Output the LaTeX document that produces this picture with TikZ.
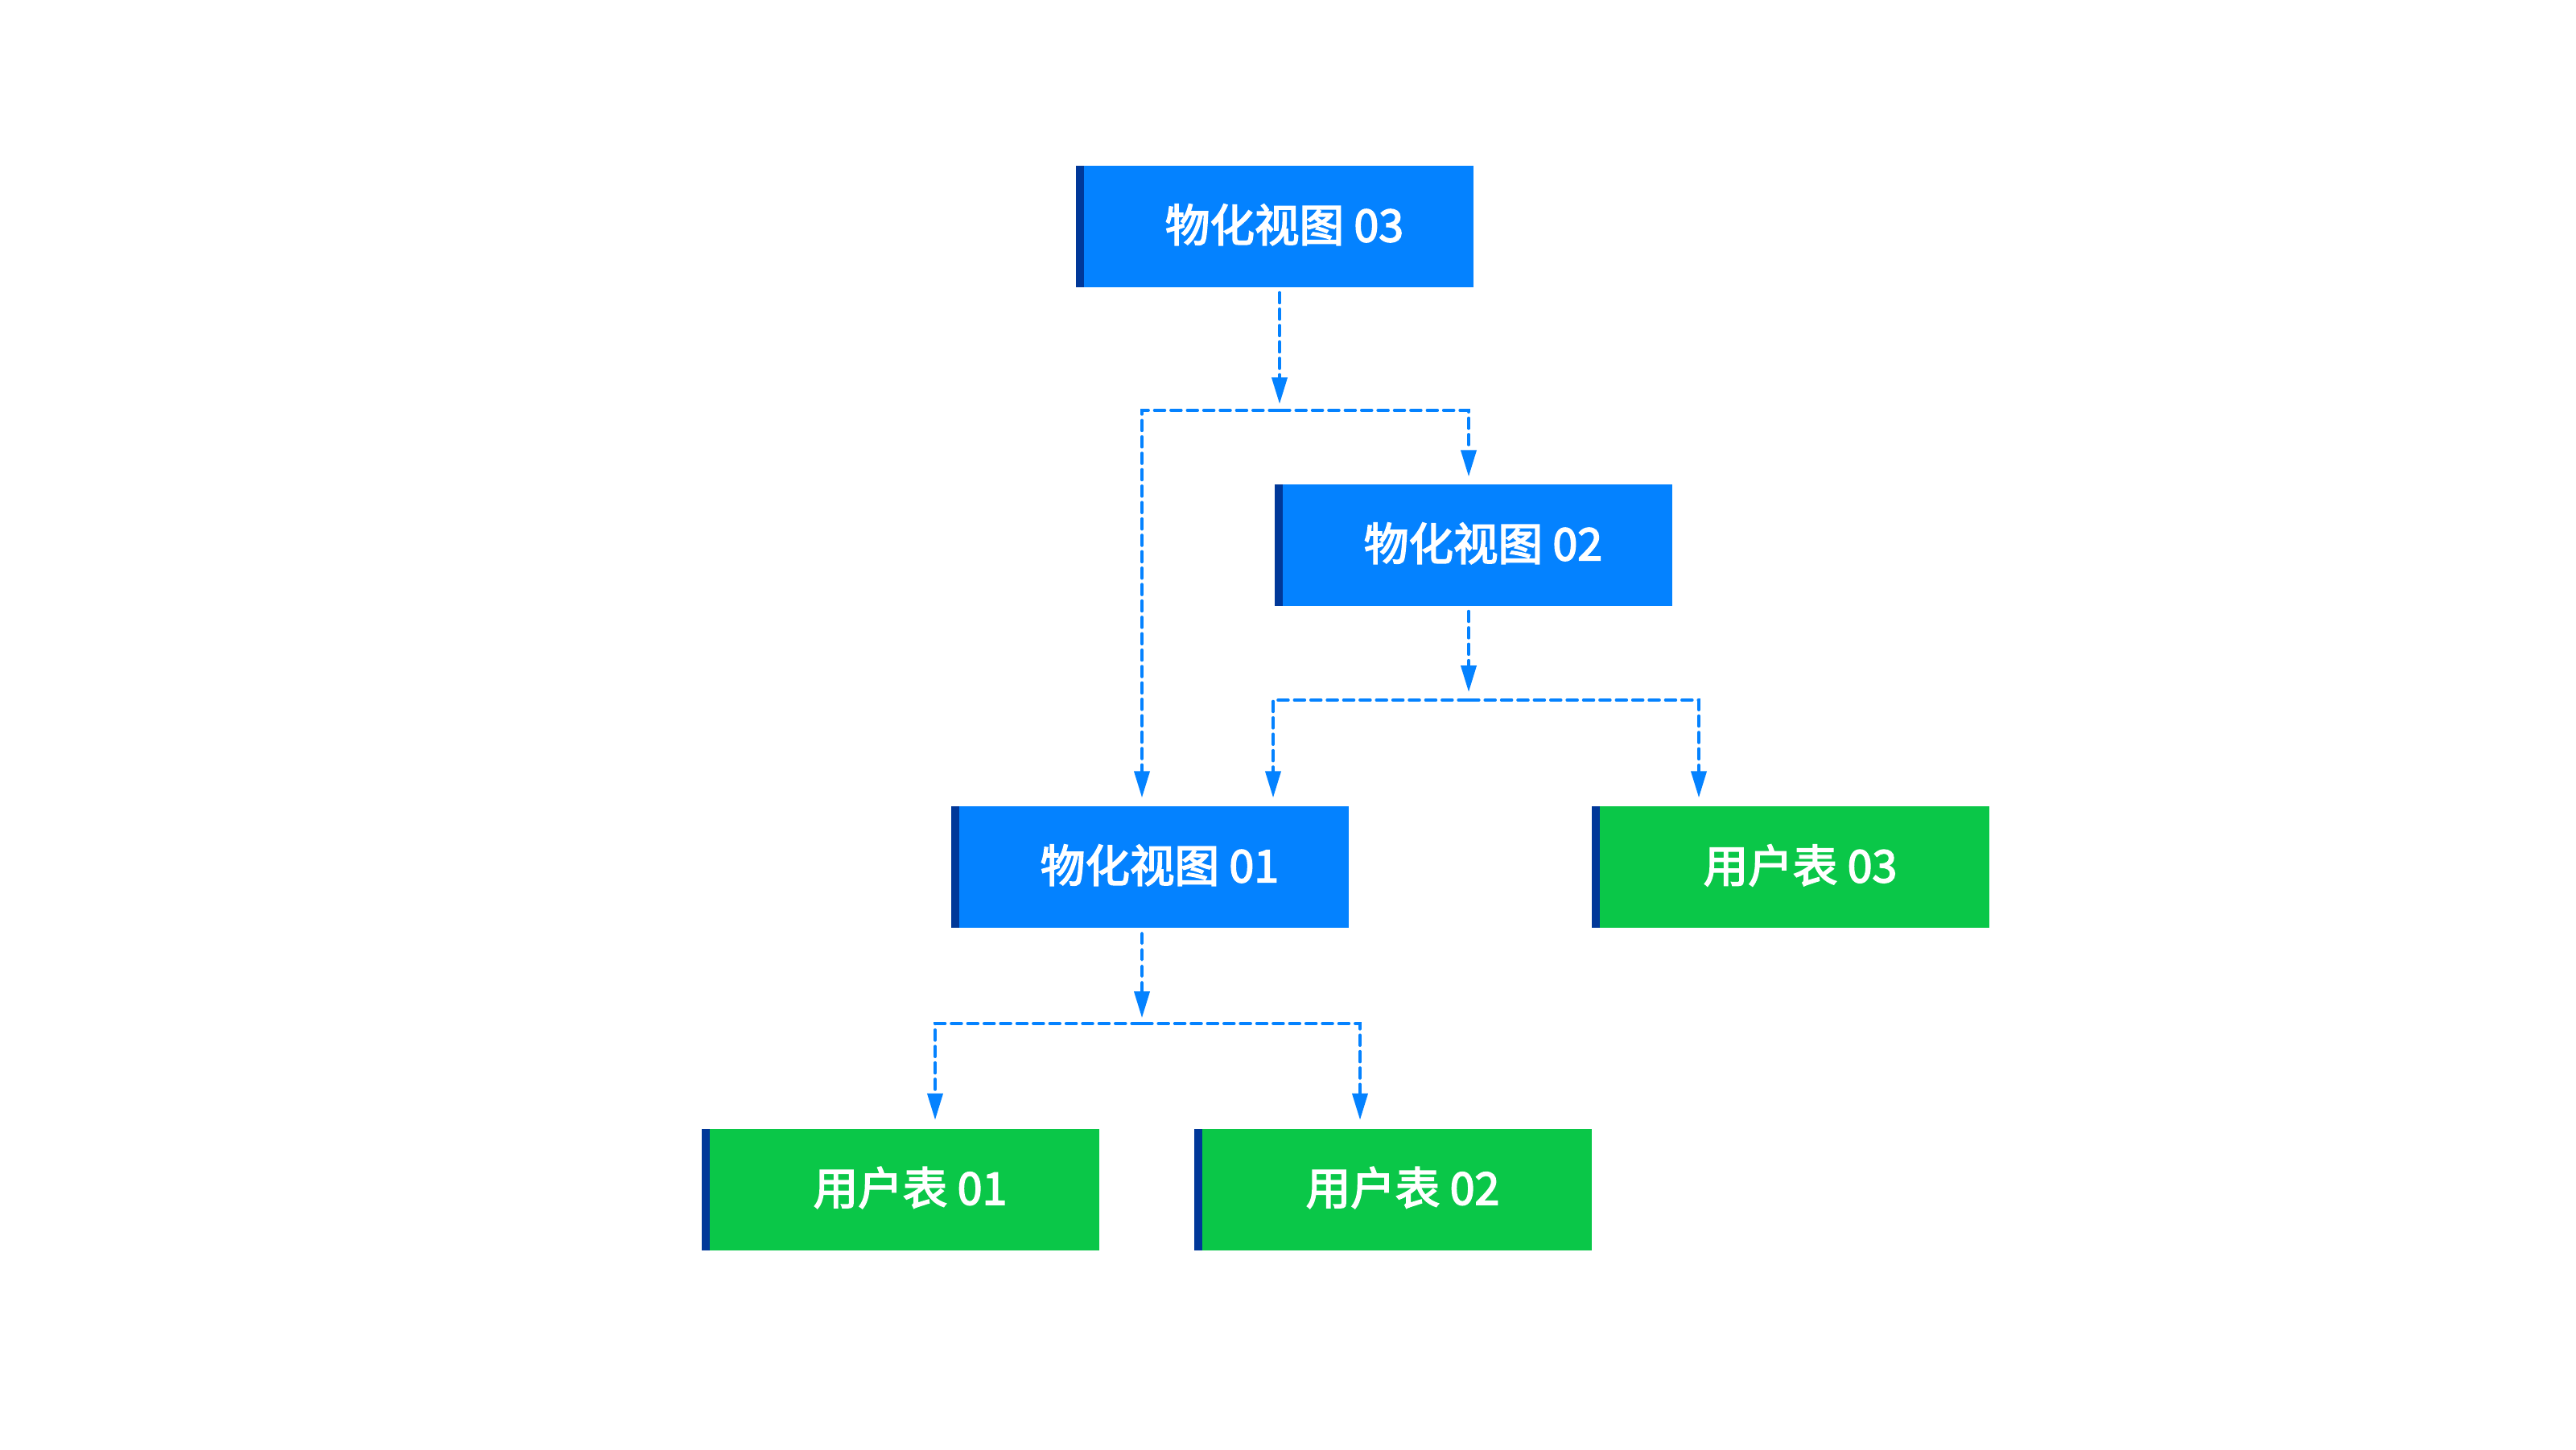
\documentclass[tikz,border=0pt]{standalone}
\usepackage{fontspec}
\newfontfamily\cjk{Noto Sans CJK SC}[FakeBold=3]
\usetikzlibrary{arrows.meta}
\definecolor{boxblue}{RGB}{4,130,255}
\definecolor{boxgreen}{RGB}{10,199,72}
\definecolor{stripe}{RGB}{0,56,153}
\definecolor{linkblue}{RGB}{4,130,255}
\newcommand{\boxlabel}[1]{\hspace*{0.24cm}\raisebox{0.09cm}{#1}}
\tikzset{
  box/.style={rectangle, minimum width=4.94cm, minimum height=1.51cm, inner sep=0pt,
    text=white, font=\cjk\fontsize{15.8pt}{18pt}\selectfont,
    path picture={\fill[stripe] (path picture bounding box.north west) rectangle ([xshift=0.1cm]path picture bounding box.south west);}},
  viewbox/.style={box, fill=boxblue},
  tablebox/.style={box, fill=boxgreen},
  link/.style={draw=linkblue, line width=1.1pt, dash pattern=on 3.6pt off 2.2pt, line cap=round},
  arrowlink/.style={link, -{Triangle[length=3.3mm,width=1.9mm]}},
}
\begin{document}
\begin{tikzpicture}
\useasboundingbox[fill=white] (0,0) rectangle (32.01,-18.01);
\node[viewbox] (m3) at (15.84,-2.815) {\boxlabel{物化视图 03}};
\node[viewbox] (m2) at (18.31,-6.775) {\boxlabel{物化视图 02}};
\node[viewbox] (m1) at (14.29,-10.775) {\boxlabel{物化视图 01}};
\node[tablebox] (u3) at (22.25,-10.775) {\boxlabel{用户表 03}};
\node[tablebox] (u1) at (11.19,-14.78) {\boxlabel{用户表 01}};
\node[tablebox] (u2) at (17.31,-14.78) {\boxlabel{用户表 02}};

\coordinate (j3) at (15.90,-5.10);
\coordinate (j2) at (18.25,-8.70);
\coordinate (j1) at (14.19,-12.72);

% from m3
\draw[arrowlink] ([xshift=0.06cm,yshift=-0.06cm]m3.south) -- ([yshift=0.08cm]j3);
\draw[arrowlink] (j3) -| ([xshift=-0.06cm,yshift=0.09cm]m2.north);
\draw[arrowlink] (j3) -| ([xshift=-0.10cm,yshift=0.10cm]m1.north);
% from m2
\draw[arrowlink] ([xshift=-0.06cm,yshift=-0.06cm]m2.south) -- ([yshift=0.10cm]j2);
\draw[arrowlink] (j2) -| ([xshift=1.53cm,yshift=0.10cm]m1.north);
\draw[arrowlink] (j2) -| ([xshift=-1.14cm,yshift=0.10cm]u3.north);
% from m1
\draw[arrowlink] ([xshift=-0.10cm,yshift=-0.06cm]m1.south) -- ([yshift=0.07cm]j1);
\draw[arrowlink] (j1) -| ([xshift=0.43cm,yshift=0.10cm]u1.north);
\draw[arrowlink] (j1) -| ([xshift=-0.41cm,yshift=0.10cm]u2.north);
\end{tikzpicture}
\end{document}
